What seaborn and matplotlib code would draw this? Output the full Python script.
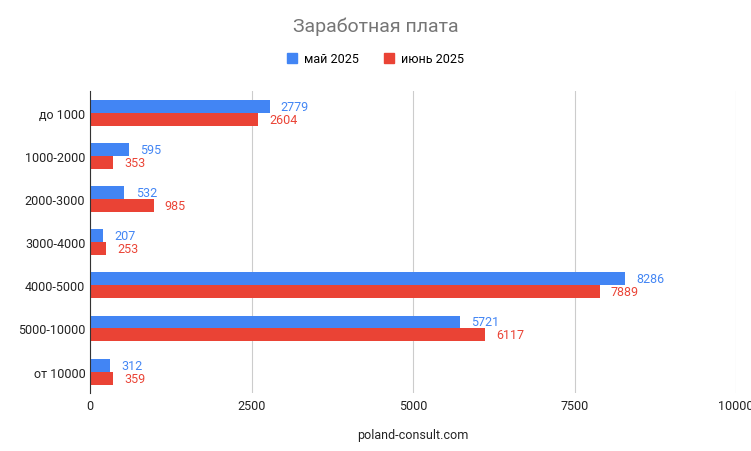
import matplotlib
matplotlib.use("Agg")
import matplotlib.pyplot as plt
import seaborn as sns
import pandas as pd

categories = ["до 1000", "1000-2000", "2000-3000", "3000-4000", "4000-5000", "5000-10000", "от 10000"]
may = [2779, 595, 532, 207, 8286, 5721, 312]
june = [2604, 353, 985, 253, 7889, 6117, 359]
series = ["май 2025", "июнь 2025"]
colors = ["#4285F4", "#EA4335"]

df = pd.DataFrame({
    "cat": categories * 2,
    "val": may + june,
    "s": [series[0]] * len(categories) + [series[1]] * len(categories),
})

plt.rcParams["font.family"] = "Roboto"
fig = plt.figure(figsize=(7.51, 4.52), dpi=100)
ax = fig.add_axes([0.12, 0.128, 0.86, 0.668])
sns.barplot(data=df, y="cat", x="val", hue="s", palette=colors, orient="h",
            width=0.6, ax=ax, legend=False, saturation=1)

for cont, col in zip(ax.containers, colors):
    ax.bar_label(cont, labels=[f"{int(v)}" for v in cont.datavalues], padding=8,
                 color=col, fontsize=9)

ax.set_xlim(0, 10000)
ax.set_xticks([0, 2500, 5000, 7500, 10000])
ax.set_xticklabels(["0", "2500", "5000", "7500", "10000"])
ax.grid(axis="x", color="#cccccc", linewidth=0.8)
ax.set_axisbelow(True)
for s in ["top", "right", "bottom"]:
    ax.spines[s].set_visible(False)
ax.spines["left"].set_color("#333333")
ax.tick_params(length=0, labelsize=9, colors="#222222")
ax.tick_params(axis="x", pad=4)
ax.set_ylabel("")
ax.set_xlabel("poland-consult.com", fontsize=9, color="#222222", labelpad=12)

fig.text(0.5, 0.94, "Заработная плата", ha="center", va="center", fontsize=14, color="#757575")
from matplotlib.patches import Patch
handles = [Patch(color=c, label=l) for c, l in zip(colors, series)]
fig.legend(handles=handles, loc="center", bbox_to_anchor=(0.5, 0.868), ncol=2, frameon=False,
           fontsize=9, handlelength=0.8, handleheight=0.8, columnspacing=2, handletextpad=0.6)

fig.savefig("out.png", dpi=100)
